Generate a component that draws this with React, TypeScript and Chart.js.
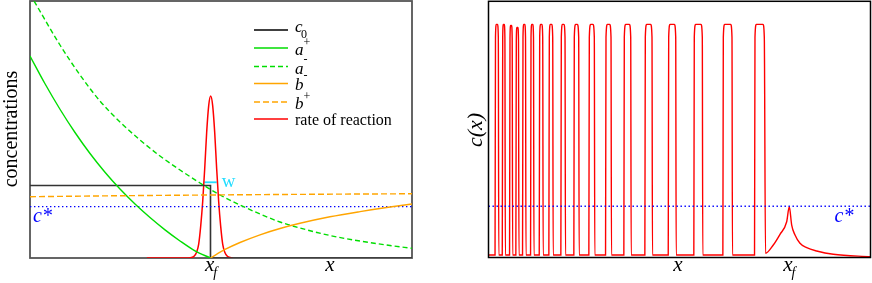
import React, { useEffect, useRef } from "react";
import { Chart, registerables } from "chart.js";
Chart.register(...registerables);

// ---------- left panel data (x: 0..100, y: 0..100) ----------
const C_STAR = 20;
const X_F = 47.25;
const X_LABEL_LEFT = 78.5;

const c0X = [0, 47.25, 47.25, 100];
const c0Y = [28.2, 28.2, 0, 0];

const aPlusX = [0, 3.93, 7.85, 11.78, 15.71, 19.63, 23.56, 27.49, 31.41, 35.34, 39.27, 43.19, 47.25];
const aPlusY = [78.6, 67.8, 57.88, 48.83, 40.66, 33.37, 26.83, 20.99, 15.74, 10.95, 6.63, 2.78, 0];

const aMinusX = [0, 1.05, 7.85, 13.09, 18.32, 23.56, 28.8, 34.03, 39.27, 44.5, 49.74, 54.97, 60.21, 65.45, 70.68, 78.53, 86.39, 94.24, 100];
const aMinusY = [102.6, 100, 82.88, 71.21, 61.09, 52.92, 45.91, 39.69, 34.24, 29.18, 24.51, 20.62, 17.12, 14.01, 11.67, 8.75, 6.61, 4.86, 3.77];

const bMinusX = [47.25, 51.05, 54.97, 60.21, 65.45, 70.68, 78.53, 86.39, 94.24, 100];
const bMinusY = [0, 3.31, 6.03, 9.03, 11.48, 13.5, 16.03, 18.05, 19.84, 21.01];

const bPlusX = [0, 25, 50, 75, 100];
const bPlusY = [23.85, 24.25, 24.55, 24.8, 25.0];

const rateX = [30.6, 41.54, 42.85, 43.64, 44.16, 44.68, 45.21, 45.73, 46.25, 46.78, 47.3, 47.82, 48.35, 48.87, 49.39, 49.92, 50.44, 50.96, 51.75, 53.06];
const rateY = [0, 0, 0.5, 2.3, 5.4, 12.3, 22.0, 34.6, 48.9, 59.3, 63.0, 59.3, 48.9, 34.6, 22.0, 12.3, 5.4, 2.3, 0.5, 0];

const wX = [45.63, 48.87];
const wY = 29.46;

// ---------- right panel data ----------
const X_F_RIGHT = 78.74;
const X_LABEL_RIGHT = 49.6;
const PULSE_BASE = 1.0;
const pulseStart = [1.83, 3.72, 5.63, 7.28, 9.03, 11.13, 13.4, 15.92, 19.06, 22.46, 26.39, 30.76, 35.55, 41.05, 47.17, 53.87, 61.47, 69.76];
const pulseEnd = [2.57, 4.29, 6.2, 7.85, 9.69, 11.78, 14.19, 16.81, 20.03, 23.61, 27.7, 32.07, 37.23, 42.8, 49.01, 55.97, 63.74, 72.2];
const pulseTop = [91, 91, 90.6, 89.8, 91, 91, 91, 91, 91, 91, 91, 91, 91, 91, 91, 91, 91, 91];
const tailX = [72.51, 74.55, 76.31, 78.06, 78.74, 79.37, 80.24, 81.54, 83.3, 85.92, 90.26, 100];
const tailY = [1.64, 4.87, 9.04, 13.96, 19.8, 12.67, 8.77, 5.54, 3.82, 2.53, 1.25, 0.31];

// ---------- styles ----------
const RED = "#ff0000";
const GREEN = "#00dd00";
const ORANGE = "#ffa500";
const BLUE = "#0000ff";
const CYAN = "#22ddff";
const SERIF = '"Liberation Serif", "DejaVu Serif", serif';

const zip = (xs: number[], ys: number[]) => xs.map((x, i) => ({ x, y: ys[i] }));

function buildPulses() {
  const pts: { x: number; y: number }[] = [{ x: 0, y: PULSE_BASE }];
  for (let i = 0; i < pulseStart.length; i++) {
    const s = pulseStart[i];
    const e = pulseEnd[i];
    const t = pulseTop[i];
    const c = Math.min(0.35, (e - s) * 0.3);
    pts.push({ x: s - 0.12, y: PULSE_BASE });
    pts.push({ x: s, y: t - 5 });
    pts.push({ x: s + c, y: t });
    pts.push({ x: e - c, y: t });
    pts.push({ x: e, y: t - 5 });
    if (i < pulseStart.length - 1) pts.push({ x: e + 0.12, y: PULSE_BASE });
  }
  return pts.concat(zip(tailX, tailY));
}

type Part = { t: string; font: string; dy: number; dx?: number };
function drawRich(ctx: CanvasRenderingContext2D, x: number, y: number, parts: Part[], color: string) {
  ctx.fillStyle = color;
  ctx.textAlign = "left";
  ctx.textBaseline = "alphabetic";
  let cx = x;
  for (const p of parts) {
    ctx.font = p.font;
    cx += p.dx || 0;
    ctx.fillText(p.t, cx, y + p.dy);
    cx += ctx.measureText(p.t).width;
  }
}

const IT = (s: number) => `italic ${s}px ${SERIF}`;
const RM = (s: number) => `${s}px ${SERIF}`;

const leftPlugin = {
  id: "leftDecor",
  beforeDatasetsDraw(chart: any) {
    const { ctx, chartArea } = chart;
    const { left, top, right, bottom } = chartArea;
    ctx.save();
    ctx.strokeStyle = "#555";
    ctx.lineWidth = 1.8;
    ctx.strokeRect(left, top, right - left, bottom - top);
    ctx.restore();
  },
  afterDraw(chart: any) {
    const { ctx, chartArea, scales } = chart;
    const xs = scales.x;
    const ys = scales.y;
    ctx.save();
    ctx.save();
    ctx.translate(16.5, 129);
    ctx.rotate(-Math.PI / 2);
    ctx.font = RM(20);
    ctx.fillStyle = "#000";
    ctx.textAlign = "center";
    ctx.textBaseline = "alphabetic";
    ctx.fillText("concentrations", 0, 0);
    ctx.restore();
    const xf = xs.getPixelForValue(X_F);
    drawRich(ctx, xf - 5.5, 271, [
      { t: "x", font: IT(21), dy: 0 },
      { t: "f", font: IT(14), dy: 6, dx: -1 },
    ], "#000");
    ctx.font = IT(21);
    ctx.fillStyle = "#000";
    ctx.textAlign = "center";
    ctx.fillText("x", xs.getPixelForValue(X_LABEL_LEFT), 271);
    drawRich(ctx, chartArea.left + 3, ys.getPixelForValue(C_STAR) + 15, [
      { t: "c*", font: IT(20), dy: 0 },
    ], BLUE);
    drawRich(ctx, xs.getPixelForValue(wX[1]) + 5, ys.getPixelForValue(wY) + 4.5, [
      { t: "w", font: RM(19), dy: 0 },
    ], CYAN);
    const entries: { color: string; dash: number[]; y: number; parts: Part[]; base: number }[] = [
      { color: "#000", dash: [], y: 30, base: 1.5, parts: [{ t: "c", font: IT(17), dy: 0 }, { t: "0", font: RM(12), dy: 6.5, dx: -1.5 }] },
      { color: GREEN, dash: [], y: 48, base: 7, parts: [{ t: "a", font: IT(17), dy: 0 }, { t: "+", font: RM(12), dy: -9 }] },
      { color: GREEN, dash: [5, 3], y: 66.5, base: 7, parts: [{ t: "a", font: IT(17), dy: 0 }, { t: "-", font: RM(12), dy: -10.5 }] },
      { color: ORANGE, dash: [], y: 83.5, base: 6, parts: [{ t: "b", font: IT(17), dy: 0 }, { t: "-", font: RM(12), dy: -10.5 }] },
      { color: ORANGE, dash: [6, 3], y: 102, base: 6.5, parts: [{ t: "b", font: IT(17), dy: 0 }, { t: "+", font: RM(12), dy: -9 }] },
      { color: RED, dash: [], y: 119, base: 6, parts: [{ t: "rate of reaction", font: RM(16), dy: 0 }] },
    ];
    for (const e of entries) {
      ctx.beginPath();
      ctx.setLineDash(e.dash);
      ctx.strokeStyle = e.color;
      ctx.lineWidth = 1.5;
      ctx.moveTo(254, e.y);
      ctx.lineTo(288, e.y);
      ctx.stroke();
      ctx.setLineDash([]);
      drawRich(ctx, 295, e.y + e.base, e.parts, "#000");
    }
    ctx.restore();
  },
};

const rightPlugin = {
  id: "rightDecor",
  afterDraw(chart: any) {
    const { ctx, chartArea, scales } = chart;
    const { left, top, right, bottom } = chartArea;
    const xs = scales.x;
    const ys = scales.y;
    ctx.save();
    ctx.strokeStyle = "#000";
    ctx.lineWidth = 1.5;
    ctx.strokeRect(left, top, right - left, bottom - top);
    ctx.save();
    ctx.translate(41.5, 130);
    ctx.rotate(-Math.PI / 2);
    ctx.font = IT(22);
    ctx.fillStyle = "#000";
    ctx.textAlign = "center";
    ctx.textBaseline = "alphabetic";
    ctx.fillText("c(x)", 0, 0);
    ctx.restore();
    ctx.font = IT(21);
    ctx.fillStyle = "#000";
    ctx.textAlign = "center";
    ctx.fillText("x", xs.getPixelForValue(X_LABEL_RIGHT), 271);
    drawRich(ctx, xs.getPixelForValue(X_F_RIGHT) - 6, 271, [
      { t: "x", font: IT(21), dy: 0 },
      { t: "f", font: IT(14), dy: 6, dx: -1 },
    ], "#000");
    drawRich(ctx, xs.getPixelForValue(90.6), ys.getPixelForValue(C_STAR) + 16, [
      { t: "c*", font: IT(20), dy: 0 },
    ], BLUE);
    ctx.restore();
  },
};

const baseOptions = (padding: any) => ({
  responsive: false,
  animation: false as const,
  devicePixelRatio: 1,
  layout: { padding },
  plugins: { legend: { display: false }, tooltip: { enabled: false } },
  elements: { point: { radius: 0 } },
  scales: {
    x: { type: "linear" as const, min: 0, max: 100, display: false },
    y: { type: "linear" as const, min: 0, max: 100, display: false },
  },
});

export default function App() {
  const leftRef = useRef<HTMLCanvasElement>(null);
  const rightRef = useRef<HTMLCanvasElement>(null);

  useEffect(() => {
    const line = (data: any[], color: string, dash: number[] = [], width = 1.4, extra: any = {}) => ({
      data,
      borderColor: color,
      borderWidth: width,
      borderDash: dash,
      pointRadius: 0,
      fill: false,
      ...extra,
    });
    const smooth = { cubicInterpolationMode: "monotone" };
    const left = new Chart(leftRef.current!, {
      type: "line",
      data: {
        datasets: [
          line(zip(bPlusX, bPlusY), ORANGE, [6, 3], 1.4, smooth),
          line(zip(bMinusX, bMinusY), ORANGE, [], 1.4, smooth),
          line(zip(aMinusX, aMinusY), GREEN, [5, 3], 1.4, smooth),
          line(zip(aPlusX, aPlusY), GREEN, [], 1.4, smooth),
          line([{ x: 0, y: C_STAR }, { x: 100, y: C_STAR }], BLUE, [1.4, 2.6], 1.4),
          line(zip(c0X, c0Y), "#333", [], 1.6),
          line(zip(rateX, rateY), RED, [], 1.5, smooth),
          line(zip(wX, [wY, wY]), CYAN, [], 1.8),
        ],
      },
      options: baseOptions({ left: 30, top: 1, right: 28, bottom: 25 }) as any,
      plugins: [leftPlugin],
    });
    const right = new Chart(rightRef.current!, {
      type: "line",
      data: {
        datasets: [
          line([{ x: 0, y: C_STAR }, { x: 100, y: C_STAR }], BLUE, [1.4, 2.6], 1.4),
          line(buildPulses(), RED, [], 1.4, smooth),
        ],
      },
      options: baseOptions({ left: 48.5, top: 1.3, right: 1.5, bottom: 25.5 }) as any,
      plugins: [rightPlugin],
    });
    return () => {
      left.destroy();
      right.destroy();
    };
  }, []);

  return (
    <div style={{ position: "fixed", left: 0, top: 0, width: 872, height: 283, background: "#fff" }}>
      <canvas ref={leftRef} width={440} height={283} style={{ position: "absolute", left: 0, top: 0, display: "block" }} />
      <canvas ref={rightRef} width={432} height={283} style={{ position: "absolute", left: 440, top: 0, display: "block" }} />
    </div>
  );
}
